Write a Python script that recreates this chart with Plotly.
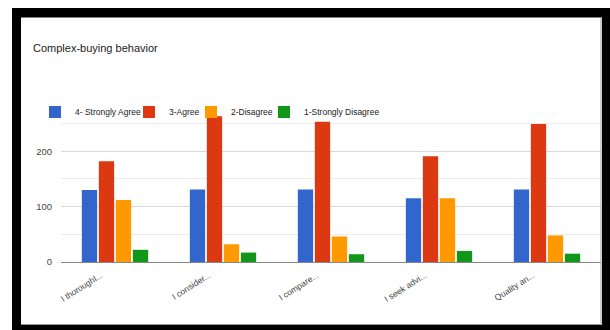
import plotly.graph_objects as go

# Survey responses per statement
questions = ["I thoroughl...", "I consider...", "I compare...", "I seek advi...", "Quality an..."]
strongly_agree = [130, 131, 131, 115, 131]
agree = [182, 263, 253, 191, 249]
disagree = [112, 32, 46, 115, 48]
strongly_disagree = [22, 17, 14, 20, 15]

series_names = ["4- Strongly Agree", "3-Agree", "2-Disagree", "1-Strongly Disagree"]
series_values = [strongly_agree, agree, disagree, strongly_disagree]
colors = ["#3366cc", "#dc3912", "#ff9900", "#109618"]

W, H = 610, 330
L, R, T, B = 61, 9, 113, 68
PW, PH = W - L - R, H - T - B


def px_x(v):
    return (v - L) / PW


def px_y(v):
    return (H - B - v) / PH


fig = go.Figure()
legend_ids = ["legend2", "legend3", "legend4", "legend5"]
legend_x = [35, 129, 191, 264]
for name, vals, col, lid in zip(series_names, series_values, colors, legend_ids):
    fig.add_trace(go.Bar(x=questions, y=vals, name=name, marker_color=col,
                         marker_line_width=0, legend=lid))

font = "Arial, Liberation Sans, sans-serif"
legend_common = dict(orientation="h", yanchor="middle", xanchor="left",
                     bgcolor="rgba(0,0,0,0)", borderwidth=0,
                     font=dict(family=font, size=8.5, color="#222"),
                     itemwidth=30, tracegroupgap=0)
layout_legends = {}
for lid, lx in zip(legend_ids, legend_x):
    layout_legends[lid] = dict(legend_common, x=px_x(lx), y=px_y(112))

# Black frame and thin inner border
frame = []
for x0, y0, x1, y1 in [(12, 8, 21, 330), (12, 8, 610, 17.5), (602, 8, 610, 330), (12, 325, 610, 330)]:
    frame.append(dict(type="rect", xref="paper", yref="paper",
                      x0=px_x(x0), x1=px_x(x1), y0=px_y(y1), y1=px_y(y0),
                      fillcolor="black", line_width=0, layer="above"))
frame.append(dict(type="line", xref="paper", yref="paper",
                  x0=px_x(601), x1=px_x(601), y0=px_y(325), y1=px_y(17.5),
                  line=dict(color="#9a9a9a", width=1), layer="above"))
frame.append(dict(type="line", xref="paper", yref="paper",
                  x0=px_x(21), x1=px_x(601), y0=px_y(324.5), y1=px_y(324.5),
                  line=dict(color="#9a9a9a", width=1), layer="above"))

fig.update_layout(
    width=W, height=H,
    margin=dict(l=L, r=R, t=T, b=B),
    paper_bgcolor="white", plot_bgcolor="white",
    barmode="group", bargap=0.37, bargroupgap=0.1,
    font=dict(family=font, color="#444"),
    showlegend=True,
    title=dict(text="Complex-buying behavior", x=33 / W, xanchor="left",
               y=1 - 48 / H, yanchor="middle", xref="container", yref="container",
               font=dict(family=font, size=11, color="#222")),
    shapes=frame,
    **layout_legends,
)
fig.update_xaxes(tickangle=-32, tickfont=dict(family=font, size=8.5, color="#444"),
                 showgrid=False, showline=False, ticks="",
                 ticklabelshift=-14, ticklabelstandoff=6)
fig.update_yaxes(range=[0, 269], dtick=100, tick0=0,
                 tickfont=dict(family=font, size=9.5, color="#444"),
                 showgrid=True, gridcolor="#d9d9d9", gridwidth=1,
                 zeroline=True, zerolinecolor="#888", zerolinewidth=1,
                 minor=dict(dtick=50, showgrid=True, gridcolor="#ececec", gridwidth=1),
                 ticklabelstandoff=8, showline=False, ticks="")

fig.write_html("out.html")
